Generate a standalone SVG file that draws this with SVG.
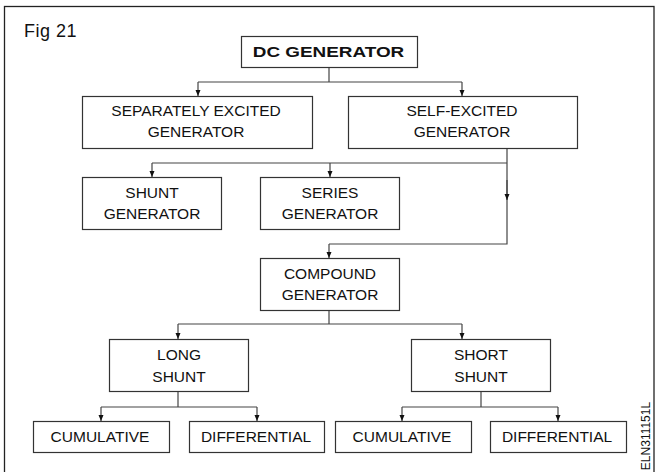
<svg xmlns="http://www.w3.org/2000/svg" width="668" height="472" viewBox="0 0 668 472">
<defs>
<marker id="arr" viewBox="0 0 6 8" refX="6" refY="4" markerWidth="6" markerHeight="8" markerUnits="userSpaceOnUse" orient="auto">
<path d="M0,1.5 L6,4 L0,6.5 Z" fill="#111"/>
</marker>
<style>
.box{fill:#fff;stroke:#333;stroke-width:1.2}
.t{font-family:"Liberation Sans",Arial,sans-serif;font-size:15.5px;fill:#111;text-anchor:middle}
.c{fill:none;stroke:#444;stroke-width:1.2}
</style>
</defs>
<rect x="0" y="0" width="668" height="472" fill="#fff"/>
<rect x="4.5" y="6.5" width="649.5" height="480" fill="none" stroke="#222" stroke-width="1.3"/>
<text x="24" y="37" font-family="'Liberation Sans',Arial,sans-serif" font-size="18" letter-spacing="0.5" fill="#111">Fig 21</text>
<text transform="translate(650,436) rotate(-90)" font-family="'Liberation Sans',Arial,sans-serif" font-size="12" fill="#111" text-anchor="middle">ELN311151L</text>

<g id="connectors">
<path class="c" d="M329,67 V82 M198,82 H462"/>
<path class="c" d="M198,82 V96" marker-end="url(#arr)"/>
<path class="c" d="M462,82 V96" marker-end="url(#arr)"/>
<path class="c" d="M507,148 V244 H329"/>
<path class="c" d="M507,180 V200" marker-end="url(#arr)"/>
<path class="c" d="M152,163 H507"/>
<path class="c" d="M152,163 V177" marker-end="url(#arr)"/>
<path class="c" d="M330,163 V177" marker-end="url(#arr)"/>
<path class="c" d="M329,244 V258" marker-end="url(#arr)"/>
<path class="c" d="M329,310 V324 M178,324 H462"/>
<path class="c" d="M178,324 V339" marker-end="url(#arr)"/>
<path class="c" d="M462,324 V339" marker-end="url(#arr)"/>
<path class="c" d="M178,392 V407 M101,407 H257"/>
<path class="c" d="M101,407 V421" marker-end="url(#arr)"/>
<path class="c" d="M257,407 V421" marker-end="url(#arr)"/>
<path class="c" d="M481,392 V407 M402,407 H558"/>
<path class="c" d="M402,407 V421" marker-end="url(#arr)"/>
<path class="c" d="M558,407 V421" marker-end="url(#arr)"/>
</g>

<g id="dc">
<rect class="box" x="241.5" y="36.5" width="176" height="31"/>
<text class="t" transform="translate(328.5,57) scale(1.22,1)" x="0" y="0" font-weight="bold">DC GENERATOR</text>
</g>
<g id="separately">
<rect class="box" x="82.5" y="96.5" width="230" height="52"/>
<text class="t" x="196" y="116">SEPARATELY EXCITED</text>
<text class="t" x="196" y="137">GENERATOR</text>
</g>
<g id="self">
<rect class="box" x="348.5" y="96.5" width="229" height="52"/>
<text class="t" x="462" y="116">SELF-EXCITED</text>
<text class="t" x="462" y="137">GENERATOR</text>
</g>
<g id="shunt">
<rect class="box" x="82.5" y="177.5" width="139" height="52"/>
<text class="t" x="152" y="198">SHUNT</text>
<text class="t" x="152" y="219">GENERATOR</text>
</g>
<g id="series">
<rect class="box" x="260.5" y="177.5" width="139" height="52"/>
<text class="t" x="330" y="198">SERIES</text>
<text class="t" x="330" y="219">GENERATOR</text>
</g>
<g id="compound">
<rect class="box" x="260.5" y="258.5" width="139" height="52"/>
<text class="t" x="330" y="279">COMPOUND</text>
<text class="t" x="330" y="300">GENERATOR</text>
</g>
<g id="longshunt">
<rect class="box" x="109.5" y="339.5" width="139" height="52"/>
<text class="t" x="179" y="360">LONG</text>
<text class="t" x="179" y="382">SHUNT</text>
</g>
<g id="shortshunt">
<rect class="box" x="411.5" y="339.5" width="139" height="52"/>
<text class="t" x="481" y="360">SHORT</text>
<text class="t" x="481" y="382">SHUNT</text>
</g>
<g id="cum1">
<rect class="box" x="33.5" y="421.5" width="136" height="31"/>
<text class="t" x="100" y="442">CUMULATIVE</text>
</g>
<g id="diff1">
<rect class="box" x="189.5" y="421.5" width="135" height="31"/>
<text class="t" x="256" y="442">DIFFERENTIAL</text>
</g>
<g id="cum2">
<rect class="box" x="335.5" y="421.5" width="136" height="31"/>
<text class="t" x="402" y="442">CUMULATIVE</text>
</g>
<g id="diff2">
<rect class="box" x="490.5" y="421.5" width="136" height="31"/>
<text class="t" x="557" y="442">DIFFERENTIAL</text>
</g>
</svg>
